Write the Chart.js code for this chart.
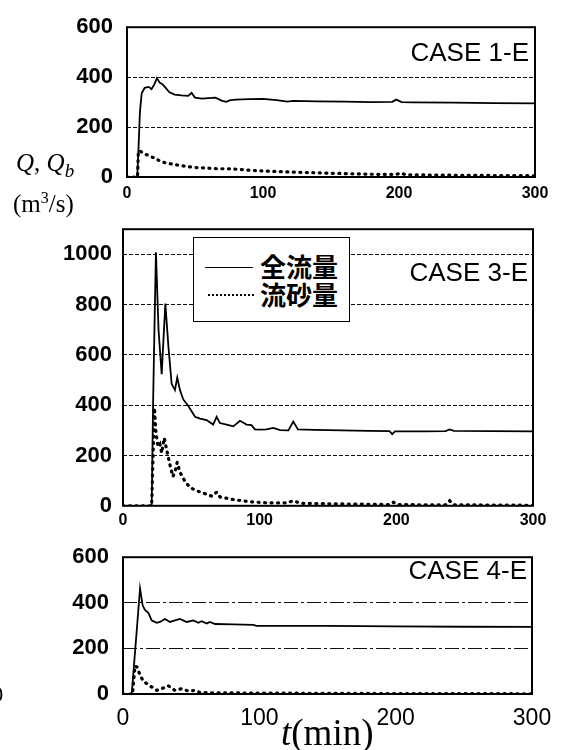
<!DOCTYPE html>
<html>
<head>
<meta charset="utf-8">
<script src="https://cdn.jsdelivr.net/npm/chart.js@4"></script>
<style>
  body { margin: 0; background: #fff; }
  #wrap { position: relative; width: 567px; height: 750px; overflow: hidden; background: #fff; }
  canvas { position: absolute; left: 0; }
  .txt { position: absolute; white-space: nowrap; color: #000; }
  .case { font: 26px "Liberation Sans", Arial, sans-serif; line-height: 30px; }
  .serif { font-family: "Liberation Serif", "Times New Roman", serif; }
  #legend { position: absolute; left: 193px; top: 237px; width: 155px; height: 83px; border: 1.5px solid #000; background: #fff; }
  #legend .lbl { position: absolute; left: 66px; font: bold 26px "Noto Sans CJK JP", sans-serif; line-height: 30px; }
</style>
</head>
<body>
<div id="wrap">
  <canvas id="c1" width="567" height="205" style="top:0"></canvas>
  <canvas id="c2" width="567" height="325" style="top:205px"></canvas>
  <canvas id="c3" width="567" height="220" style="top:530px"></canvas>

  <div class="txt case" style="right:38px; top:37px">CASE 1-E</div>
  <div class="txt case" style="right:39px; top:257px">CASE 3-E</div>
  <div class="txt case" style="right:40px; top:555px">CASE 4-E</div>

  <div class="txt serif" style="left:16px; top:148px; font-size:25px; line-height:30px"><i>Q</i>, <i>Q<sub style="font-size:19px">b</sub></i></div>
  <div class="txt serif" style="left:13px; top:183px; font-size:25px; line-height:30px">(m<sup style="font-size:16px">3</sup>/s)</div>
  <div class="txt serif" style="left:281px; top:713px; font-size:37px; line-height:40px"><i>t</i>(min)</div>
  <div class="txt" style="left:-9px; top:682px; font:22px 'Liberation Sans', Arial, sans-serif">0</div>

  <div id="legend">
    <div style="position:absolute; left:11px; top:29px; width:48px; border-top:1.5px solid #000"></div>
    <div style="position:absolute; left:14px; top:56px; width:46px; border-top:2px dotted #000"></div>
    <div class="lbl" style="top:13px">全流量</div>
    <div class="lbl" style="top:41px">流砂量</div>
  </div>
</div>
<script>
// CASE 1-E
var t1  = [0, 7.5, 8.5, 9.5, 10.8, 13, 16, 18, 20, 22, 24, 26, 28, 31, 35, 40, 45, 47.5, 50, 55, 60, 65, 70, 73, 76, 80, 90, 100, 110, 118, 122, 140, 160, 180, 195, 198, 202, 210, 240, 270, 300];
var q1  = [0, 0, 120, 260, 335, 357, 361, 352, 370, 396, 378, 372, 360, 340, 330, 327, 325, 337, 318, 314, 316, 318, 305, 301, 308, 310, 312, 313, 308, 302, 305, 303, 302, 300, 301, 310, 300, 299, 298, 296, 295];
var ts1 = [0, 7.8, 8.3, 9, 12, 15, 18, 21, 24, 28, 33, 37, 43, 50, 58, 66, 75, 88, 100, 120, 150, 180, 198, 201, 205, 240, 270, 300];
var qs1 = [0, 0, 100, 106, 95, 88, 80, 76, 64, 57, 52, 48, 43, 38, 36, 33, 33, 28, 24, 20, 15, 11, 10, 16, 9, 7, 6, 5];

// CASE 3-E
var t2  = [0, 21, 22, 23, 24.1, 26, 28.3, 29.5, 31, 33.2, 35.6, 38, 39.7, 41.7, 44.1, 47.7, 52.7, 56.3, 61.2, 66, 68.5, 70.9, 75.8, 80.7, 85.6, 90.4, 94, 96.5, 100, 105, 110, 115, 121, 124.6, 128, 140, 160, 180, 195, 197, 199, 220, 236, 239, 242, 270, 300];
var q2  = [0, 0, 400, 700, 1008, 700, 523, 650, 804, 635, 485, 460, 510, 460, 423, 398, 354, 347, 341, 323, 354, 329, 323, 316, 338, 323, 321, 304, 303, 304, 310, 301, 300, 335, 304, 302, 300, 298, 297, 285, 296, 296, 297, 304, 298, 297, 296];
var ts2 = [0, 21, 22, 23, 24, 25.5, 27, 28.3, 30.2, 32, 34.5, 36.5, 38, 39.7, 41.5, 45.3, 48.9, 53.8, 60, 65, 68.5, 71, 80.7, 92.8, 105, 120, 124.6, 130, 150, 180, 195, 198, 201, 220, 236, 239, 242, 270, 300];
var qs2 = [0, 0, 200, 390, 300, 235, 245, 210, 270, 220, 160, 116, 135, 173, 135, 98, 73, 60, 48, 38, 54, 35, 25, 16, 12, 12, 20, 10, 8, 6, 5, 14, 5, 4, 4, 20, 4, 3, 2];

// CASE 4-E
var t3  = [0, 6.4, 12.5, 14.4, 16.1, 18.6, 21, 24.7, 27.1, 30.8, 34.5, 38.1, 41.8, 46.7, 51.6, 55.2, 57.7, 61.4, 63.8, 67.5, 80.9, 95.6, 98, 150, 200, 250, 300];
var q3  = [0, 0, 463, 389, 369, 356, 323, 312, 316, 329, 316, 323, 329, 316, 323, 312, 319, 309, 316, 307, 305, 303, 299, 299, 297, 295, 294];
var ts3 = [0, 7, 8.8, 10.3, 12.5, 14.9, 19.8, 24.7, 28.3, 33.2, 38.1, 43, 47.9, 52.8, 56.5, 70, 100, 150, 200, 250, 300];
var qs3 = [0, 0, 123, 118, 83, 56, 36, 16, 23, 36, 16, 23, 13, 16, 6, 5, 4, 3, 2, 2, 1];

var xTicks = [0, 100, 200, 300];

function pts(xs, ys){
  return xs.map(function(x, i){ return {x: x, y: ys[i]}; });
}

// frame round the plot area
var frame = {
  id: 'frame',
  afterDraw: function(chart){
    var a = chart.chartArea, c = chart.ctx;
    c.save();
    c.strokeStyle = '#000';
    c.lineWidth = 2;
    c.strokeRect(a.left, a.top, a.right - a.left, a.bottom - a.top);
    c.restore();
  }
};

function makeChart(id, total, sed, o){
  return new Chart(document.getElementById(id), {
    type: 'line',
    data: {
      datasets: [
        { data: total, borderColor: '#000', borderWidth: 1.8, pointRadius: 0, tension: 0 },
        { data: sed, borderColor: '#000', borderWidth: 3.2, borderDash: [1, 5.5], borderCapStyle: 'round', pointRadius: 0, tension: 0 }
      ]
    },
    options: {
      responsive: false,
      animation: false,
      devicePixelRatio: 1,
      layout: { padding: { top: o.top, right: o.right, left: 0, bottom: 0 } },
      plugins: { legend: { display: false }, tooltip: { enabled: false } },
      scales: {
        x: {
          type: 'linear', min: 0, max: 300,
          afterBuildTicks: function(s){ s.ticks = xTicks.map(function(v){ return {value: v}; }); },
          afterFit: function(s){ s.height = o.xh; },
          grid: { display: false, drawTicks: false },
          border: { display: false },
          ticks: { color: '#000', padding: o.xpad, maxRotation: 0, autoSkip: false, font: o.xfont }
        },
        y: {
          min: 0, max: o.ymax,
          afterBuildTicks: function(s){ s.ticks = o.yTicks.map(function(v){ return {value: v}; }); },
          afterFit: function(s){ s.width = o.yw; },
          border: { display: false, dash: o.dash },
          grid: {
            drawTicks: false,
            lineWidth: 1,
            color: function(c){ return (c.tick.value === 0 || c.tick.value === o.ymax) ? 'rgba(0,0,0,0)' : '#111'; }
          },
          ticks: {
            color: '#000', padding: o.ypad,
            font: { family: '"Liberation Sans", Arial, sans-serif', size: 22, weight: 'bold' },
            callback: function(v){ return v > o.ylabMax ? null : v; }
          }
        }
      }
    },
    plugins: [frame]
  });
}

var smallX = { family: '"Liberation Sans Narrow", "Liberation Sans", Arial, sans-serif', size: 16, weight: 'bold' };

makeChart('c1', pts(t1, q1), pts(ts1, qs1), {
  top: 24, right: 32, yw: 127, xh: 28, ymax: 600, ylabMax: 600,
  yTicks: [0, 200, 400, 600], dash: [4, 2], xpad: 7, ypad: 14, xfont: smallX
});
makeChart('c2', pts(t2, q2), pts(ts2, qs2), {
  top: 10, right: 34, yw: 123, xh: 24, ymax: 1100, ylabMax: 1000,
  yTicks: [0, 200, 400, 600, 800, 1000, 1100], dash: [4, 2], xpad: 5, ypad: 11, xfont: smallX
});
makeChart('c3', pts(t3, q3), pts(ts3, qs3), {
  top: 13, right: 35, yw: 123, xh: 56, ymax: 600, ylabMax: 600,
  yTicks: [0, 200, 400, 600], dash: [14, 3, 3, 3], xpad: 11, ypad: 14,
  xfont: { family: '"Liberation Sans", Arial, sans-serif', size: 23 }
});
</script>
</body>
</html>
